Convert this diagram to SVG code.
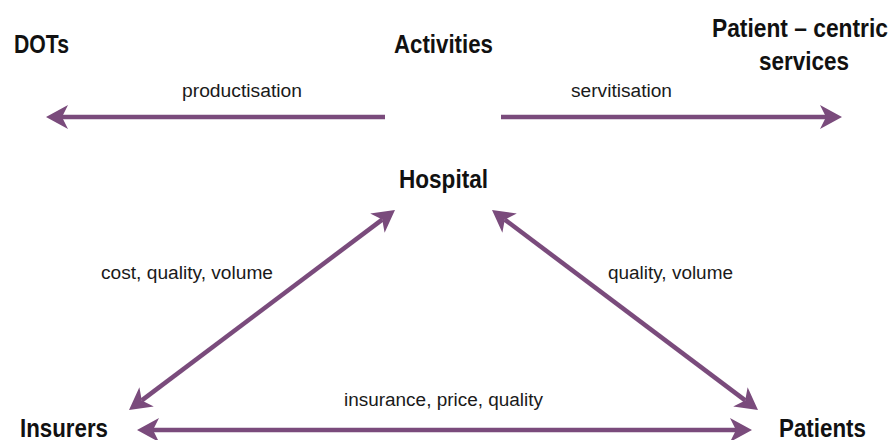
<svg xmlns="http://www.w3.org/2000/svg" width="891" height="440" viewBox="0 0 891 440">
<style>
.t{font-family:"Liberation Sans",Arial,sans-serif;font-weight:bold;font-size:25px;fill:#111}
.l{font-family:"Liberation Sans",Arial,sans-serif;font-size:18px;fill:#1a1a1a}
.c{stroke:#7a4b7c;stroke-width:4.5;fill:none}
</style>
<defs>
<marker id="ah" markerUnits="userSpaceOnUse" viewBox="-8 -13 26 26" refX="0" refY="0" markerWidth="26" markerHeight="26" orient="auto-start-reverse">
<path d="M16,0 L-6,-12 L0,0 L-6,12 Z" fill="#7a4b7c"/>
</marker>
</defs>
<rect width="891" height="440" fill="#fff"/>
<g id="connectors">
<line class="c" x1="385" y1="117" x2="62" y2="117" marker-end="url(#ah)"/>
<line class="c" x1="501" y1="117" x2="826" y2="117" marker-end="url(#ah)"/>
<line class="c" x1="382.2" y1="219.6" x2="141.8" y2="400.4" marker-start="url(#ah)" marker-end="url(#ah)"/>
<line class="c" x1="504.8" y1="219.6" x2="745.2" y2="400.4" marker-start="url(#ah)" marker-end="url(#ah)"/>
<line class="c" x1="153" y1="430" x2="736" y2="430" marker-start="url(#ah)" marker-end="url(#ah)"/>
</g>
<g id="labels">
<text class="l" x="182" y="97" textLength="120" lengthAdjust="spacingAndGlyphs">productisation</text>
<text class="l" x="571" y="97" textLength="101" lengthAdjust="spacingAndGlyphs">servitisation</text>
<text class="l" x="101" y="279" textLength="172" lengthAdjust="spacingAndGlyphs">cost, quality, volume</text>
<text class="l" x="608" y="279" textLength="125" lengthAdjust="spacingAndGlyphs">quality, volume</text>
<text class="l" x="344" y="406" textLength="199" lengthAdjust="spacingAndGlyphs">insurance, price, quality</text>
</g>
<g id="dots"><text class="t" x="14" y="53" textLength="55" lengthAdjust="spacingAndGlyphs">DOTs</text></g>
<g id="activities"><text class="t" x="394" y="53" textLength="99" lengthAdjust="spacingAndGlyphs">Activities</text></g>
<g id="patient-centric"><text class="t" x="712" y="37" textLength="176" lengthAdjust="spacingAndGlyphs">Patient – centric</text><text class="t" x="759" y="70" textLength="90" lengthAdjust="spacingAndGlyphs">services</text></g>
<g id="hospital"><text class="t" x="399" y="188" textLength="89" lengthAdjust="spacingAndGlyphs">Hospital</text></g>
<g id="insurers"><text class="t" x="20" y="437" textLength="88" lengthAdjust="spacingAndGlyphs">Insurers</text></g>
<g id="patients"><text class="t" x="779" y="437" textLength="87" lengthAdjust="spacingAndGlyphs">Patients</text></g>
</svg>
